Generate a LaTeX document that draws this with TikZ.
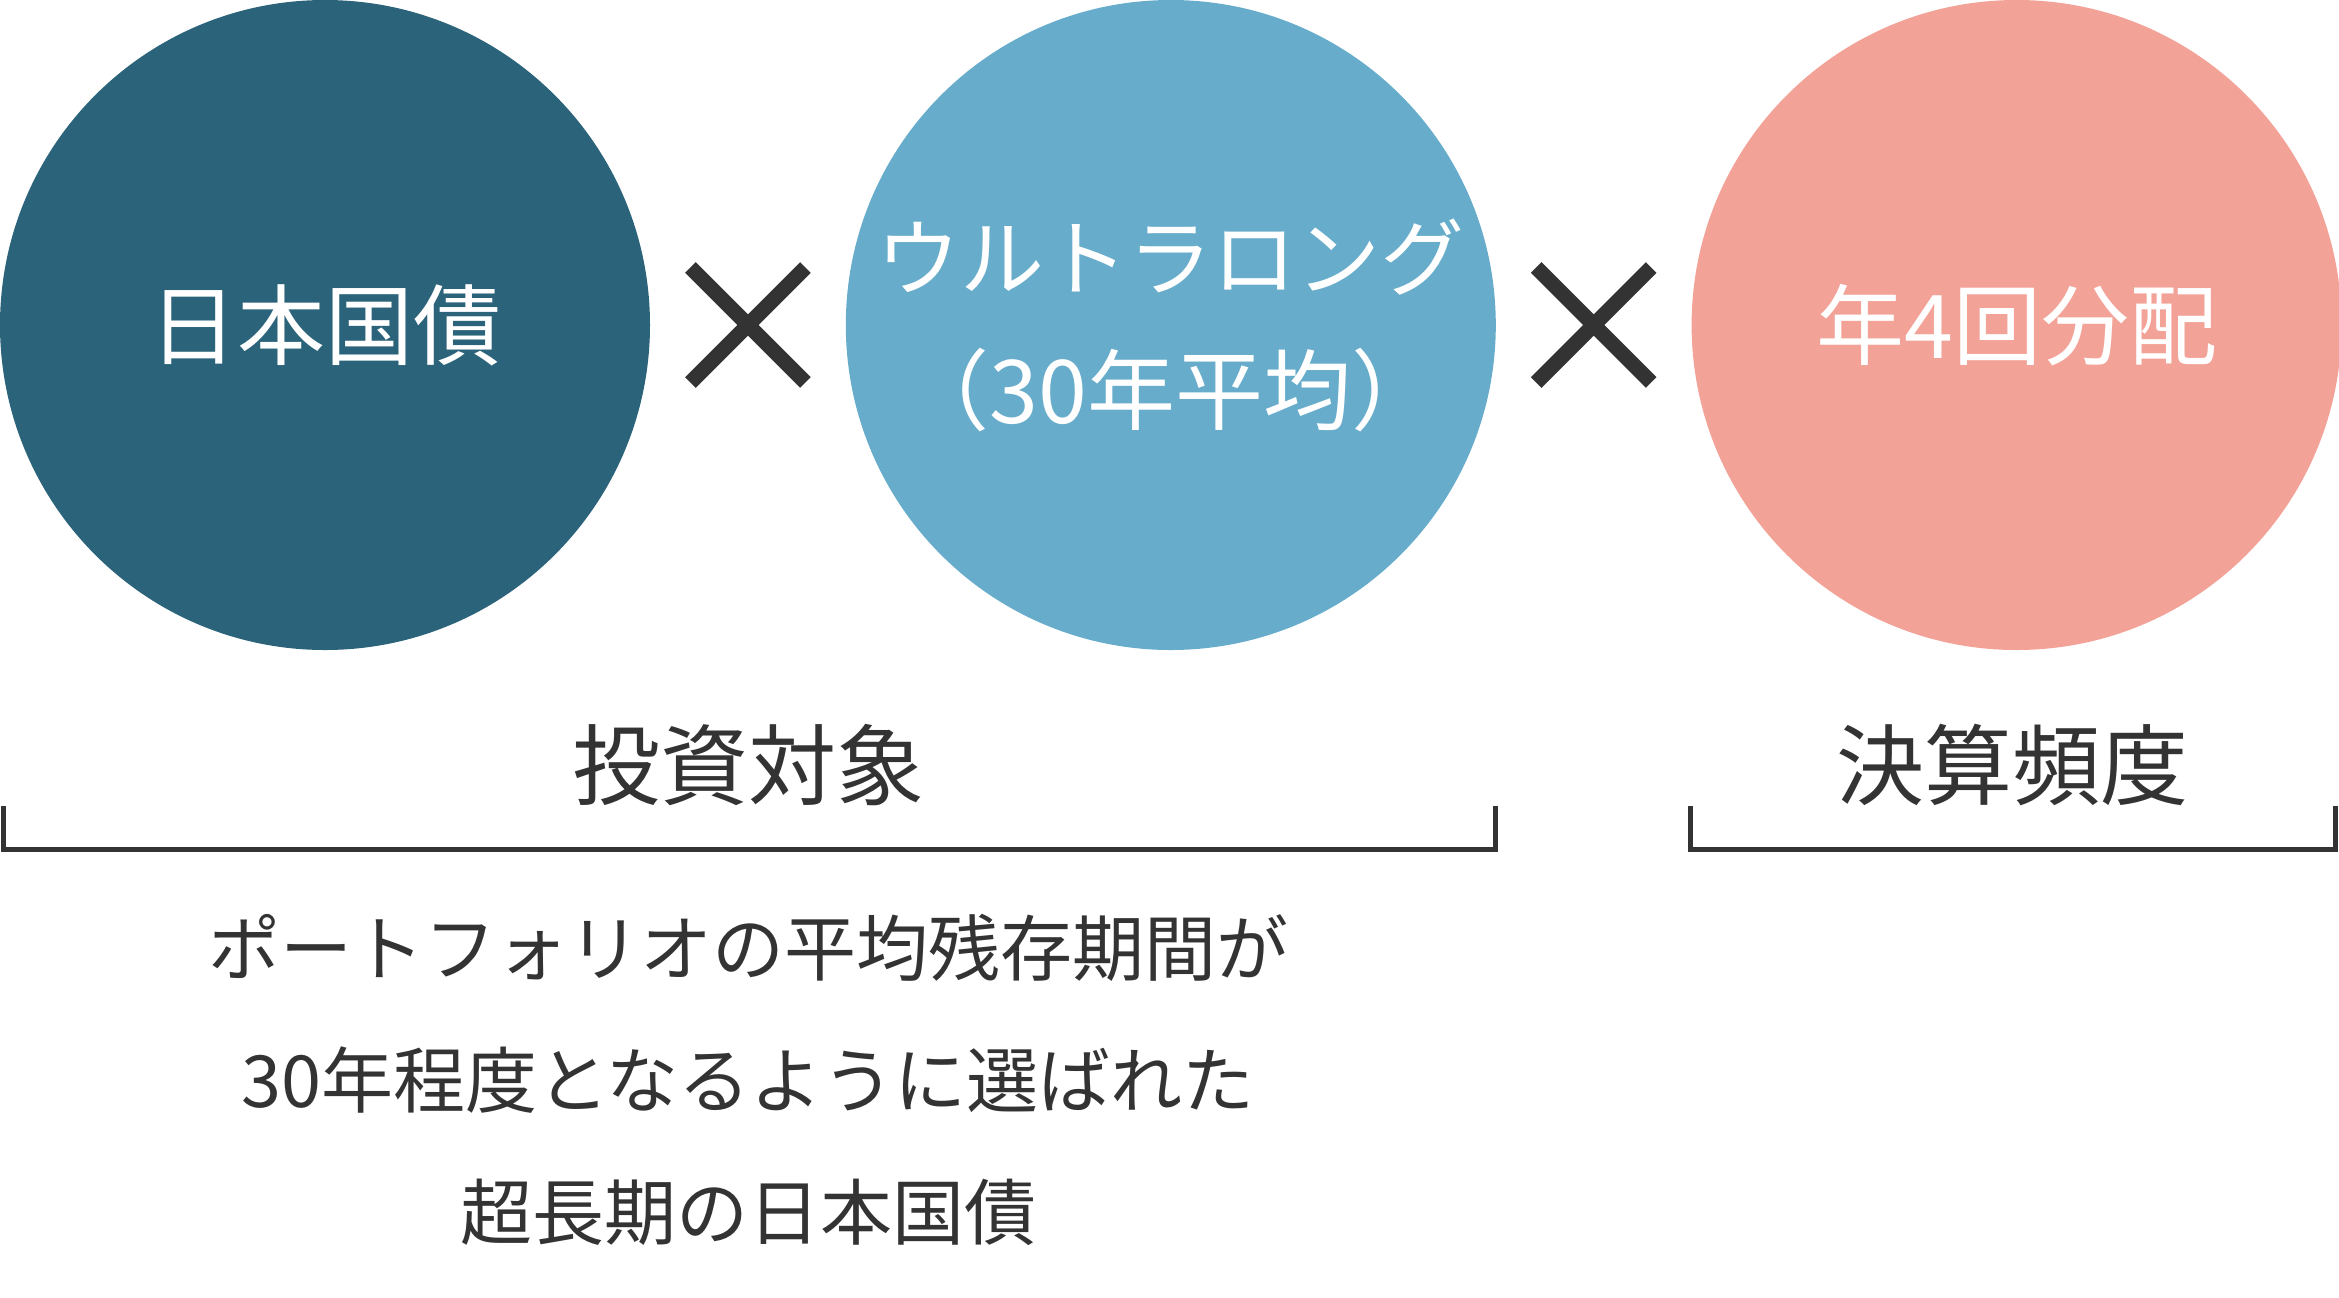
\documentclass[tikz,border=0pt]{standalone}
\usepackage{fontspec}
\setmainfont{Noto Sans CJK JP}
\usetikzlibrary{positioning,shapes.misc}
\definecolor{navy}{HTML}{2B637A}
\definecolor{sky}{HTML}{67ACCB}
\definecolor{salmon}{HTML}{F3A297}
\definecolor{ink}{HTML}{333333}

\begin{document}
\begin{tikzpicture}[x=0.5pt,y=-0.5pt,node distance=97.5pt,
                    disc/.style={circle,minimum size=325pt,inner sep=0pt,text=white,
                                 align=center,font=\fontsize{44}{67}\selectfont},
                    times/.style={cross out,draw=ink,line width=7.5pt,minimum size=50pt,inner sep=0pt},
                    bracket/.style={draw=ink,line width=2.5pt},
                    heading/.style={text=ink,font=\fontsize{44}{50}\selectfont}]
  \useasboundingbox (0,0) rectangle (2339,1297);

  \node[disc,fill=navy]   (A) at (325,325) {日本国債};
  \node[disc,fill=sky]    (B) [right=of A] {{\fontsize{42}{67}\selectfont ウルトラロング}\\（30年平均）};
  \node[disc,fill=salmon] (C) [right=of B] {年4回分配};
  \path (A) -- (B) node[times,midway] (AB) {}
        (B) -- (C) node[times,midway] (BC) {};

  \node[heading] (L1) at (748,765)  {投資対象};
  \node[heading] (L2) at (2012,765) {決算頻度};
  \draw[bracket] (3,806) |- (1495,849) -- (1495,806);
  \draw[bracket] (1690,806) |- (2335,849) -- (2335,806);

  \node[text=ink,align=center,font=\fontsize{36}{66}\selectfont] (T) at (748,1080)
       {ポートフォリオの平均残存期間が\\30年程度となるように選ばれた\\超長期の日本国債};
\end{tikzpicture}
\end{document}
